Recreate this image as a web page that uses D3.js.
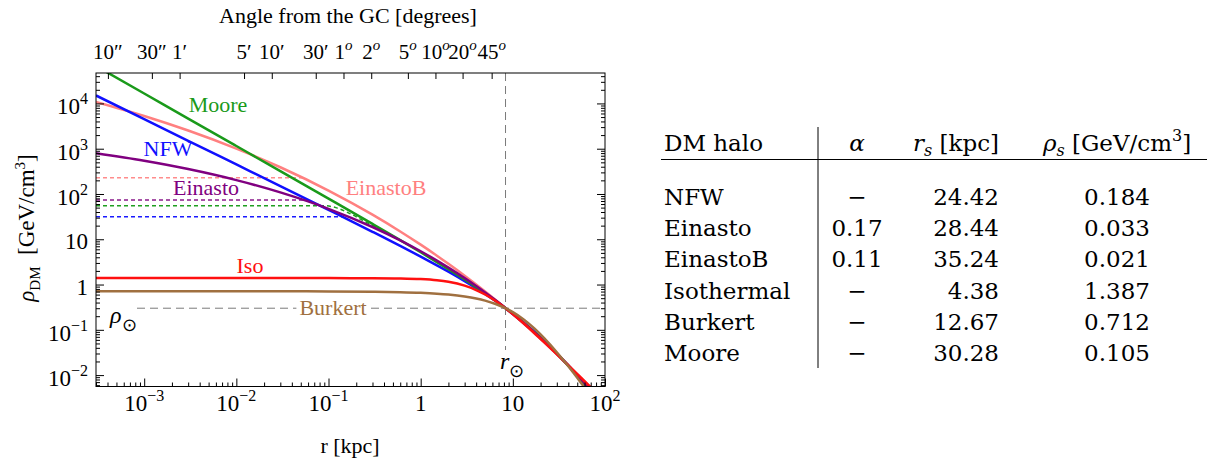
<!DOCTYPE html>
<html>
<head>
<meta charset="utf-8">
<script src="https://cdn.jsdelivr.net/npm/d3@7"></script>
<style>
  body { margin: 0; background: #fff; }
  text { font-family: "Liberation Serif", "Times New Roman", serif; fill: #000; }
  .tbl text { font-family: "DejaVu Serif", serif; }
</style>
</head>
<body>
<svg id="chart" width="1207" height="462"></svg>
<script>
// Galactocentric radius samples [kpc]
const radii = [3e-4, 1e-3, 3e-3, 0.01, 0.03, 0.1, 0.3, 0.6, 1, 1.5, 2, 3, 4, 5, 6.5, 8.33, 10, 13, 17, 22, 30, 40, 55, 75, 100];

// DM density [GeV/cm^3] of each halo at those radii
const nfwRho      = [14980, 4494, 1498, 448.9, 149.5, 44.57, 14.62, 7.138, 4.147, 2.659, 1.920, 1.188, 0.8295, 0.6191, 0.4312, 0.300, 0.2262, 0.1472, 0.09189, 0.05653, 0.03017, 0.01614, 0.007722, 0.003614, 0.00173];
const einastoRho  = [793, 542, 355.1, 202.3, 108.3, 47.09, 18.67, 9.487, 5.443, 3.382, 2.364, 1.385, 0.9261, 0.6683, 0.4486, 0.3027, 0.2240, 0.1429, 0.08841, 0.05454, 0.02964, 0.01634, 0.008171, 0.004009, 0.0020];
const einastoBRho = [10760, 5278, 2522, 1007, 389.3, 119.1, 35.0, 14.89, 7.605, 4.345, 2.873, 1.570, 1.005, 0.7041, 0.4585, 0.302, 0.2197, 0.1390, 0.08518, 0.05256, 0.02889, 0.01627, 0.008432, 0.004346, 0.0023];
const isoRho      = [1.387, 1.387, 1.387, 1.387, 1.387, 1.386, 1.3805, 1.3614, 1.3183, 1.2414, 1.1477, 0.9441, 0.7563, 0.6022, 0.4331, 0.3004, 0.2233, 0.1414, 0.08634, 0.05288, 0.02895, 0.01643, 0.008741, 0.004715, 0.002656];
const burkertRho  = [0.712, 0.7119, 0.7118, 0.7114, 0.7103, 0.7064, 0.6951, 0.6783, 0.6558, 0.6278, 0.6000, 0.5451, 0.4921, 0.4417, 0.3725, 0.2999, 0.2452, 0.1712, 0.1086, 0.06481, 0.0320, 0.01562, 0.006718, 0.002855, 0.001265];
const mooreRho    = [66990, 16570, 4634, 1146, 320.2, 78.85, 21.79, 9.579, 5.169, 3.137, 2.183, 1.290, 0.8747, 0.6403, 0.4376, 0.2999, 0.2279, 0.1449, 0.09036, 0.05568, 0.02990, 0.01615, 0.007816, 0.003702, 0.001792];

// Cored (flattened) variants in the inner region
const einastoBCoreR   = [3e-4, 0.0525];
const einastoBCoreRho = [229, 229];
const einastoCoreR    = [3e-4, 0.0538];
const einastoCoreRho  = [73.8, 73.8];
const mooreCoreR      = [3e-4, 0.09, 0.12, 0.18, 0.27, 0.4];
const mooreCoreRho    = [55.2, 55.2, 50, 35, 22.5, 15.6];
const nfwCoreR        = [3e-4, 0.141];
const nfwCoreRho      = [31.5, 31.5];

// Solar position and local density
const rSun = 8.33;
const rhoSun = 0.3;

// Angle from the Galactic Centre (top axis), value + unit
const angleArcsec = [10, 30, 60, 300, 600, 1800, 3600, 7200, 18000, 36000, 72000, 162000];
const angleValues = [10, 30, 1, 5, 10, 30, 1, 2, 5, 10, 20, 45];
const angleUnits  = ["\u2033", "\u2033", "\u2032", "\u2032", "\u2032", "\u2032", "o", "o", "o", "o", "o", "o"];

// Axis tick exponents
const xTickExponents = [-3, -2, -1, 0, 1, 2];
const yTickExponents = [-2, -1, 0, 1, 2, 3, 4];

// Parameter table
const haloNames  = ["NFW", "Einasto", "EinastoB", "Isothermal", "Burkert", "Moore"];
const haloAlpha  = [null, 0.17, 0.11, null, null, null];
const haloRs     = [24.42, 28.44, 35.24, 4.38, 12.67, 30.28];
const haloRhoS   = [0.184, 0.033, 0.021, 1.387, 0.712, 0.105];

const svg = d3.select("#chart");
const L = 96, R = 605, T = 73, B = 386.5;

const x = d3.scaleLog().domain([3e-4, 100]).range([L, R]);
const y = d3.scaleLog().domain([5.6e-3, 4.7e4]).range([B, T]);

svg.append("defs").append("clipPath").attr("id", "plotClip")
  .append("rect").attr("x", L).attr("y", T).attr("width", R - L).attr("height", B - T);

const plot = svg.append("g").attr("clip-path", "url(#plotClip)");

const line = d3.line()
  .x(d => x(d[0]))
  .y(d => y(d[1]))
  .curve(d3.curveMonotoneX);

// reference lines at the Sun
plot.append("line")
  .attr("x1", x(rSun)).attr("x2", x(rSun))
  .attr("y1", T).attr("y2", 350)
  .attr("stroke", "#7a7a7a").attr("stroke-width", 1).attr("stroke-dasharray", "8,5");
plot.append("line")
  .attr("x1", 137).attr("x2", R)
  .attr("y1", y(rhoSun)).attr("y2", y(rhoSun))
  .attr("stroke", "#7a7a7a").attr("stroke-width", 1).attr("stroke-dasharray", "8,5");

// cored variants (dashed)
const cores = [
  { r: einastoBCoreR, rho: einastoBCoreRho, color: "#ff8c8c" },
  { r: einastoCoreR,  rho: einastoCoreRho,  color: "#8a1a8a" },
  { r: mooreCoreR,    rho: mooreCoreRho,    color: "#1f9f1f" },
  { r: nfwCoreR,      rho: nfwCoreRho,      color: "#1a1aff" }
];
cores.forEach(c => {
  plot.append("path")
    .attr("d", line(c.r.map((r, i) => [r, c.rho[i]])))
    .attr("fill", "none").attr("stroke", c.color)
    .attr("stroke-width", 1.5).attr("stroke-dasharray", "4,3");
});

// halo profiles
const profiles = [
  { name: "EinastoB", rho: einastoBRho, color: "#ff8080" },
  { name: "NFW",      rho: nfwRho,      color: "#1010ff" },
  { name: "Moore",    rho: mooreRho,    color: "#1a9a1a" },
  { name: "Einasto",  rho: einastoRho,  color: "#800080" },
  { name: "Iso",      rho: isoRho,      color: "#ff1010" },
  { name: "Burkert",  rho: burkertRho,  color: "#a07040" }
];
profiles.forEach(p => {
  plot.append("path")
    .attr("d", line(radii.map((r, i) => [r, p.rho[i]])))
    .attr("fill", "none").attr("stroke", p.color)
    .attr("stroke-width", 2.5).attr("stroke-linejoin", "round");
});

// curve labels
const curveLabels = [
  { text: "Moore",    color: "#1a9a1a", cx: 218, cy: 105 },
  { text: "NFW",      color: "#1010ff", cx: 168, cy: 149 },
  { text: "Einasto",  color: "#800080", cx: 206, cy: 188 },
  { text: "EinastoB", color: "#ff8080", cx: 386, cy: 188 },
  { text: "Iso",      color: "#ff1010", cx: 250, cy: 266 }
];
curveLabels.forEach(c => {
  svg.append("text").attr("x", c.cx).attr("y", c.cy + 7)
    .attr("text-anchor", "middle").attr("font-size", 22)
    .style("fill", c.color).text(c.text);
});
// Burkert label sits on the rho_sun line with a white backing
const burk = svg.append("text").attr("x", 333).attr("y", y(rhoSun) + 7)
  .attr("text-anchor", "middle").attr("font-size", 22)
  .style("fill", "#a07040").text("Burkert");
const bb = burk.node().getBBox();
svg.insert("rect", () => burk.node())
  .attr("x", bb.x - 3).attr("y", bb.y + 3).attr("width", bb.width + 6).attr("height", bb.height - 6)
  .attr("fill", "#fff");

// rho_sun / r_sun labels
const rhoSunLabel = svg.append("text").attr("x", 110).attr("y", 323).attr("font-size", 24);
rhoSunLabel.append("tspan").attr("font-style", "italic").text("\u03C1");
rhoSunLabel.append("tspan").attr("dy", 8).attr("font-size", 18).text("\u2299");
const rSunLabel = svg.append("text").attr("x", 500).attr("y", 369).attr("font-size", 24);
rSunLabel.append("tspan").attr("font-style", "italic").text("r");
rSunLabel.append("tspan").attr("dy", 8).attr("font-size", 18).text("\u2299");

// frame
svg.append("rect").attr("x", L).attr("y", T).attr("width", R - L).attr("height", B - T)
  .attr("fill", "none").attr("stroke", "#000").attr("stroke-width", 1);

// ticks
function minorTicks(domain) {
  const out = [];
  const lo = Math.floor(Math.log10(domain[0])), hi = Math.ceil(Math.log10(domain[1]));
  for (let n = lo; n <= hi; n++) {
    for (let k = 2; k <= 9; k++) {
      const v = k * Math.pow(10, n);
      if (v >= domain[0] && v <= domain[1]) out.push(v);
    }
  }
  return out;
}
const xMajor = xTickExponents.map(e => Math.pow(10, e));
const yMajor = yTickExponents.map(e => Math.pow(10, e));
const xMinor = minorTicks(x.domain());
const yMinor = minorTicks(y.domain());

function tickGroup(axis, transform) {
  svg.append("g").attr("transform", transform).call(axis)
    .call(g => g.select(".domain").remove())
    .call(g => g.selectAll("line").attr("stroke", "#000").attr("stroke-width", 1));
}
tickGroup(d3.axisBottom(x).tickValues(xMajor).tickSize(-8).tickFormat(""), `translate(0,${B})`);
tickGroup(d3.axisBottom(x).tickValues(xMinor).tickSize(-4).tickFormat(""), `translate(0,${B})`);
tickGroup(d3.axisLeft(y).tickValues(yMajor).tickSize(-8).tickFormat(""), `translate(${L},0)`);
tickGroup(d3.axisLeft(y).tickValues(yMinor).tickSize(-4).tickFormat(""), `translate(${L},0)`);
tickGroup(d3.axisRight(y).tickValues(yMajor).tickSize(-8).tickFormat(""), `translate(${R},0)`);
tickGroup(d3.axisRight(y).tickValues(yMinor).tickSize(-4).tickFormat(""), `translate(${R},0)`);

// angle ticks along the top edge: r = rSun * sin(theta)
const angleRadii = angleArcsec.map(a => rSun * Math.sin(a / 3600 * Math.PI / 180));
tickGroup(d3.axisTop(x).tickValues(angleRadii).tickSize(-6).tickFormat(""), `translate(0,${T})`);

// power-of-ten label helper
function powerLabel(sel, e, supSize, supDy) {
  if (e === 0) { sel.text("1"); return; }
  if (e === 1) { sel.text("10"); return; }
  sel.append("tspan").text("10");
  sel.append("tspan").attr("dy", supDy).attr("font-size", supSize)
    .text(e < 0 ? "\u2212" + (-e) : String(e));
}

// bottom tick labels
xTickExponents.forEach(e => {
  const t = svg.append("text").attr("x", x(Math.pow(10, e))).attr("y", 411)
    .attr("text-anchor", "middle").attr("font-size", 23);
  powerLabel(t, e, 16, -10);
});
// left tick labels
yTickExponents.forEach(e => {
  const t = svg.append("text").attr("x", 88).attr("y", y(Math.pow(10, e)) + (e > 1 || e < 0 ? 11 : 10))
    .attr("text-anchor", "end").attr("font-size", 23);
  powerLabel(t, e, 16, -10);
});
// top angle labels
angleRadii.forEach((r, i) => {
  const t = svg.append("text").attr("x", x(r)).attr("y", 59)
    .attr("text-anchor", "middle").attr("font-size", 21);
  t.append("tspan").text(angleValues[i]);
  if (angleUnits[i] === "o") {
    t.append("tspan").attr("dy", -9).attr("font-size", 15).attr("font-style", "italic").text("o");
  } else {
    t.append("tspan").text(angleUnits[i]);
  }
});

// axis titles
svg.append("text").attr("x", 348).attr("y", 23).attr("text-anchor", "middle")
  .attr("font-size", 22).text("Angle from the GC [degrees]");
svg.append("text").attr("x", 350).attr("y", 453).attr("text-anchor", "middle")
  .attr("font-size", 22).text("r [kpc]");
const yTitle = svg.append("text").attr("transform", "translate(34,228) rotate(-90)")
  .attr("text-anchor", "middle").attr("font-size", 23);
yTitle.append("tspan").attr("font-style", "italic").text("\u03C1");
yTitle.append("tspan").attr("dy", 6).attr("font-size", 15).text("DM");
yTitle.append("tspan").attr("dy", -6).text("\u00A0\u00A0[GeV/cm");
yTitle.append("tspan").attr("dy", -9).attr("font-size", 15).text("3");
yTitle.append("tspan").attr("dy", 9).text("]");

// parameter table
const tbl = svg.append("g").attr("class", "tbl").attr("font-size", 23);
const colName = 664, colAlpha = 857, colRs = 999, colRho = 1117;
const headY = 151;
tbl.append("text").attr("x", colName).attr("y", headY).text("DM halo");
tbl.append("text").attr("x", colAlpha).attr("y", headY).attr("text-anchor", "middle")
  .attr("font-style", "italic").text("\u03B1");
const hRs = tbl.append("text").attr("x", colRs).attr("y", headY).attr("text-anchor", "end");
hRs.append("tspan").attr("font-style", "italic").text("r");
hRs.append("tspan").attr("dy", 5).attr("font-size", 16).attr("font-style", "italic").text("s");
hRs.append("tspan").attr("dy", -5).text("\u00A0[kpc]");
const hRho = tbl.append("text").attr("x", colRho).attr("y", headY).attr("text-anchor", "middle");
hRho.append("tspan").attr("font-style", "italic").text("\u03C1");
hRho.append("tspan").attr("dy", 5).attr("font-size", 16).attr("font-style", "italic").text("s");
hRho.append("tspan").attr("dy", -5).text("\u00A0[GeV/cm");
hRho.append("tspan").attr("dy", -10).attr("font-size", 16).text("3");
hRho.append("tspan").attr("dy", 10).text("]");

tbl.append("line").attr("x1", 661).attr("x2", 1207).attr("y1", 159.5).attr("y2", 159.5)
  .attr("stroke", "#000").attr("stroke-width", 1);
tbl.append("line").attr("x1", 818).attr("x2", 818).attr("y1", 127).attr("y2", 368)
  .attr("stroke", "#000").attr("stroke-width", 1);

const rowY = d3.scaleLinear().domain([0, haloNames.length - 1]).range([205, 361]);
haloNames.forEach((name, i) => {
  const yy = rowY(i);
  tbl.append("text").attr("x", colName).attr("y", yy).text(name);
  tbl.append("text").attr("x", colAlpha).attr("y", yy).attr("text-anchor", "middle")
    .text(haloAlpha[i] === null ? "\u2212" : d3.format(".2f")(haloAlpha[i]));
  tbl.append("text").attr("x", colRs).attr("y", yy).attr("text-anchor", "end")
    .text(d3.format(".2f")(haloRs[i]));
  tbl.append("text").attr("x", colRho).attr("y", yy).attr("text-anchor", "middle")
    .text(d3.format(".3f")(haloRhoS[i]));
});
</script>
</body>
</html>
